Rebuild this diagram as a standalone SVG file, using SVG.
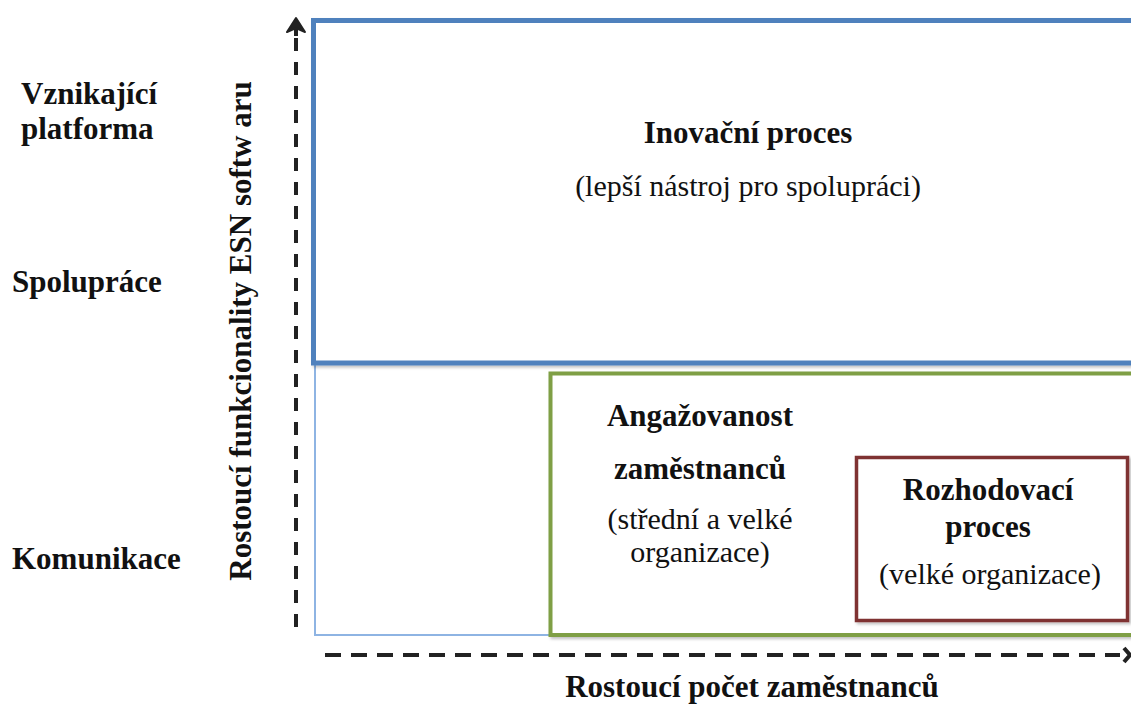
<svg xmlns="http://www.w3.org/2000/svg" width="1131" height="704" viewBox="0 0 1131 704">
<style>
  .b { font-family: "Liberation Serif", "Times New Roman", serif; font-weight: bold; font-size: 31px; fill: #111; }
  .r { font-family: "Liberation Serif", "Times New Roman", serif; font-size: 30px; fill: #111; }
  .m { text-anchor: middle; }
  .axis { fill: none; stroke: #222; stroke-width: 4; }
</style>
<defs>
  <filter id="sh" x="-5%" y="-5%" width="110%" height="110%">
    <feDropShadow dx="2" dy="2" stdDeviation="1.5" flood-color="#000" flood-opacity="0.25"/>
  </filter>
</defs>
<rect width="1131" height="704" fill="#fff"/>

<g id="zone-base">
  <rect x="315" y="363" width="830" height="272" fill="#fff" stroke="#8eb4e3" stroke-width="2"/>
</g>

<g id="node-inovacni" filter="url(#sh)">
  <rect x="313.5" y="20.5" width="830" height="342.5" fill="#fff" stroke="#4f81bd" stroke-width="5"/>
</g>
<g id="node-inovacni-text">
  <text class="b m" x="748" y="143">Inovační proces</text>
  <text class="r m" x="748" y="196">(lepší nástroj pro spolupráci)</text>
</g>

<g id="node-angazovanost" filter="url(#sh)">
  <rect x="550.5" y="373.5" width="600" height="261.5" fill="#fff" stroke="#7f9f45" stroke-width="4"/>
</g>
<g id="node-angazovanost-text">
  <text class="b m" x="700" y="426">Angažovanost</text>
  <text class="b m" x="700" y="479">zaměstnanců</text>
  <text class="r m" x="700" y="529">(střední a velké</text>
  <text class="r m" x="700" y="562">organizace)</text>
</g>

<g id="node-rozhodovaci" filter="url(#sh)">
  <rect x="856.5" y="457.5" width="271" height="163" fill="#fff" stroke="#7f3330" stroke-width="3.5"/>
</g>
<g id="node-rozhodovaci-text">
  <text class="b m" x="988" y="500">Rozhodovací</text>
  <text class="b m" x="988" y="537">proces</text>
  <text class="r m" x="990" y="584">(velké organizace)</text>
</g>

<g id="connectors">
  <line class="axis" x1="296" y1="627" x2="296" y2="36" stroke-dasharray="13 11"/>
  <line class="axis" x1="296" y1="36" x2="296" y2="21"/>
  <polygon points="287,32 296,18 305,32 296,28" fill="#222" stroke="#222" stroke-width="2" stroke-linejoin="round"/>
  <line class="axis" x1="325" y1="655" x2="1120" y2="655" stroke-dasharray="16 10"/>
  <polyline class="axis" points="1124,648 1130,655 1124,662"/>
</g>

<g id="labels">
  <text class="b" x="21" y="104">Vznikající</text>
  <text class="b" x="21" y="139">platforma</text>
  <text class="b" x="12" y="292">Spolupráce</text>
  <text class="b" x="12" y="569">Komunikace</text>
  <text class="b m" transform="translate(251,331) rotate(-90)">Rostoucí funkcionality ESN softw aru</text>
  <text class="b m" x="752" y="697">Rostoucí počet zaměstnanců</text>
</g>
</svg>
